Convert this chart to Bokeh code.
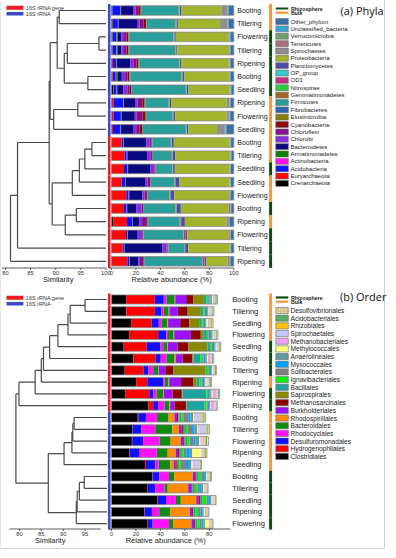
from bokeh.plotting import figure
from bokeh.models import Range1d, ColumnDataSource
from bokeh.core.properties import value
from bokeh.embed import file_html
from bokeh.resources import INLINE

# ---------------- panel (a): phyla ----------------
samples_a = ["Booting", "Tillering", "Flowering", "Tillering", "Ripening", "Booting", "Seedling",
             "Ripening", "Flowering", "Seedling", "Booting", "Tillering", "Seedling", "Seedling",
             "Flowering", "Booting", "Ripening", "Flowering", "Tillering", "Ripening"]
source_a = ["16S rRNA"] * 10 + ["16S rRNA gene"] * 10
habitat_a = ["Bulk", "Bulk", "Rhizosphere", "Rhizosphere", "Rhizosphere", "Rhizosphere", "Rhizosphere",
             "Bulk", "Bulk", "Bulk", "Bulk", "Bulk", "Rhizosphere", "Bulk", "Bulk", "Rhizosphere",
             "Bulk", "Rhizosphere", "Rhizosphere", "Rhizosphere"]

crenarchaeota = [0.5, 1, 0.8, 0.8, 0.5, 0.8, 1.5, 0.3, 0.3, 0.3, 0.3, 0.3, 0.3, 0.3, 0.5, 0.3, 1.4, 0.3, 0.3, 0.3]
euryarchaeota = [0.3, 0.3, 0.3, 0.3, 0.8, 0.5, 0.3, 1.4, 1.4, 1, 8, 10.3, 10, 8.1, 11.6, 10, 11.4, 11.6, 8.9, 12.7]
acidobacteria = [6.5, 4, 2.7, 2.7, 2.5, 2.2, 2.2, 8, 6, 6, 1.3, 1.9, 2.7, 2.7, 1.9, 2, 4, 1, 1, 1.5]
actinobacteria = [0.3, 0.3, 0.3, 0.3, 0.3, 0.3, 0.3, 0.3, 0.3, 0.3, 0.3, 0.3, 0.3, 0.3, 0.3, 0.3, 0.3, 0.3, 0.3, 0.3]
armatimonadetes = [0.3, 0.3, 1, 1, 0.5, 1.2, 0.5, 0.3, 0.3, 0.3, 0.3, 0.3, 0.3, 0.3, 0.3, 0.3, 0.3, 0.3, 0.3, 0.3]
bacteroidetes = [9.8, 15, 3, 3, 11, 3.5, 4.8, 9.5, 10.8, 10.3, 18.4, 16, 18.4, 16.3, 10.8, 7.3, 5.6, 8, 31, 6.8]
chlorobi = [2, 2.2, 2.2, 2.2, 2.2, 2.7, 3.8, 1.4, 1.6, 2, 2.7, 2.7, 3.2, 1.4, 1.6, 4.6, 2, 3.5, 3.2, 1.4]
chloroflexi = [2.7, 3.2, 2, 2, 2.7, 2, 1.4, 4, 4.6, 2.9, 1.4, 1.4, 0.5, 2.2, 2, 1, 4, 0.5, 0.8, 2.7]
cyanobacteria = [1.5, 2, 1.5, 1.6, 1.6, 1.5, 1.4, 1.9, 2.7, 1.9, 0.3, 0.3, 0.3, 0.3, 0.3, 0.3, 0.5, 0.3, 0.3, 0.5]
elusimicrobia = [0.5, 0.3, 0.5, 0.4, 0.3, 0.4, 0.3, 0.3, 0.3, 0.3, 0.2, 0.2, 0.2, 0.2, 0.2, 0.2, 0.2, 0.2, 0.2, 0.2]
fibrobacteres = [0.5, 0.3, 0.3, 0.3, 0.3, 0.3, 0.3, 0.3, 0.5, 0.5, 0.3, 0.3, 0.3, 0.3, 0.3, 0.3, 0.3, 0.3, 0.3, 0.5]
firmicutes = [30, 23.5, 36, 37.4, 32.5, 41.7, 44, 19, 21, 35, 15, 15, 13, 19, 17.6, 25.7, 25.7, 32.5, 12.7, 47]
gemmatimonadetes = [0.3, 0.3, 0.3, 0.3, 0.3, 0.3, 0.3, 0.3, 0.3, 0.3, 0.3, 0.5, 0.3, 0.3, 0.3, 0.3, 0.3, 0.3, 0.3, 0.3]
nitrospirae = [0.3, 0.2, 0.3, 0.3, 0.2, 0.3, 0.2, 0.2, 0.2, 0.2, 0.2, 0.2, 0.2, 0.2, 0.2, 0.3, 0.3, 0.2, 0.2, 0.2]
od1 = [0.2, 0.2, 0.2, 0.2, 0.2, 0.2, 0.2, 0.2, 0.2, 0.2, 0.2, 0.2, 0.2, 0.2, 0.2, 0.3, 0.5, 1.5, 0.3, 1.4]
op_group = [0.2, 0.2, 0.2, 0.2, 0.2, 0.2, 0.2, 0.2, 0.2, 0.2, 0.2, 0.2, 0.2, 0.2, 0.2, 0.2, 0.2, 0.2, 0.2, 0.2]
planctomycetes = [1.4, 1, 1, 0.8, 0.8, 1.3, 1.3, 1.1, 1.4, 1.1, 1.6, 2.2, 1.4, 3.2, 3, 3.3, 3, 1, 2.4, 1.2]
proteobacteria = [32.5, 34.5, 43, 42.2, 39, 36.6, 33.5, 45.5, 42, 23.5, 45.5, 44.5, 44.6, 40.9, 45, 38.8, 34, 34, 33.8, 17.5]
spirochaetes = [4.9, 5.7, 0.3, 0.3, 0.3, 0.3, 0.3, 2.2, 1.9, 6.2, 0.3, 0.3, 0.3, 0.3, 0.3, 0.3, 0.5, 0.3, 0.3, 0.3]
tenericutes = [0.3, 0.3, 0.3, 0.3, 0.3, 0.3, 0.3, 0.3, 0.3, 0.3, 0.3, 0.3, 0.3, 0.3, 0.3, 1.5, 1.4, 0.8, 0.5, 1.4]
verrucomicrobia = [0.3, 0.3, 0.2, 0.2, 0.2, 0.2, 0.2, 0.2, 0.2, 0.3, 0.2, 0.2, 0.2, 0.2, 0.2, 0.2, 0.2, 0.2, 0.2, 0.2]
unclassified_bacteria = [0.7, 0.6, 1, 0.6, 0.7, 0.6, 0.7, 0.5, 0.6, 0.9, 0.5, 0.5, 0.4, 0.4, 0.5, 0.4, 0.5, 0.3, 0.3, 0.5]
other_phylum = [4, 4.3, 2.6, 2.6, 2.6, 2.6, 2, 2.6, 2.9, 6, 2.2, 1.9, 2.4, 2.4, 2.4, 2.1, 3.4, 2.4, 2.2, 2.6]

phyla_names = ["Crenarchaeota", "Euryarchaeota", "Acidobacteria", "Actinobacteria", "Armatimonadetes",
               "Bacteroidetes", "Chlorobi", "Chloroflexi", "Cyanobacteria", "Elusimicrobia", "Fibrobacteres",
               "Firmicutes", "Gemmatimonadetes", "Nitrospirae", "OD1", "OP_group", "Planctomycetes",
               "Proteobacteria", "Spirochaetes", "Tenericutes", "Verrucomicrobia", "Unclassified_bacteria",
               "Other_phylum"]
phyla_values = [crenarchaeota, euryarchaeota, acidobacteria, actinobacteria, armatimonadetes, bacteroidetes,
                chlorobi, chloroflexi, cyanobacteria, elusimicrobia, fibrobacteres, firmicutes,
                gemmatimonadetes, nitrospirae, od1, op_group, planctomycetes, proteobacteria, spirochaetes,
                tenericutes, verrucomicrobia, unclassified_bacteria, other_phylum]
phyla_colors = ["#000000", "#FF0A0A", "#0A14FF", "#FF10F0", "#0A800A", "#0A0A80", "#8A2BE2", "#86108A",
                "#8B0A0A", "#858000", "#2F63B2", "#2A9E9A", "#A8642C", "#2ECC40", "#C62D84", "#35C8CC",
                "#4C4CA6", "#A2B42E", "#8E8E8E", "#A8707A", "#6E9F6E", "#39A3D3", "#3A6EA8"]

# dendrogram (a): merge i joins node left[i] and right[i] at similarity sim[i]; new node id = 20 + i
dendro_a_left = [2, 20, 5, 21, 0, 24, 7, 26, 25, 10, 29, 30, 31, 15, 33, 32, 28, 36, 37]
dendro_a_right = [3, 4, 6, 22, 1, 23, 8, 9, 27, 11, 12, 13, 14, 16, 17, 34, 35, 18, 19]
dendro_a_sim = [98.6, 92.3, 96.4, 91.7, 90.7, 90.3, 94.4, 89.6, 88.9, 97.2, 95.8, 94.7, 93.3, 94.1, 91.9,
                89.3, 88.7, 82.4, 81.0]

# ---------------- panel (b): orders ----------------
samples_b = ["Booting", "Tillering", "Seedling", "Flowering", "Seedling", "Booting", "Tillering", "Ripening",
             "Flowering", "Ripening", "Booting", "Tillering", "Flowering", "Ripening", "Seedling", "Booting",
             "Tillering", "Seedling", "Ripening", "Flowering"]
source_b = ["16S rRNA gene"] * 10 + ["16S rRNA"] * 10
habitat_b = ["Bulk", "Bulk", "Bulk", "Bulk", "Rhizosphere", "Rhizosphere", "Rhizosphere", "Bulk",
             "Rhizosphere", "Rhizosphere", "Bulk", "Bulk", "Bulk", "Bulk", "Bulk", "Rhizosphere",
             "Rhizosphere", "Rhizosphere", "Rhizosphere", "Rhizosphere"]

clostridiales = [12.1, 12.1, 16.1, 14.5, 10, 18, 10.8, 20.2, 11.3, 30.1, 21.5, 17.2, 16.7, 14.5, 27.4, 33.3, 29.6, 37.6, 26.9, 29.6]
hydrogenophilales = [23.4, 23.4, 16.7, 23.7, 18.8, 18, 15.3, 9.1, 19.6, 4, 0.5, 0.3, 0.3, 0.3, 0.8, 0.3, 0.3, 0.3, 0.3, 0.3]
desulfuromonadales = [7.3, 5.4, 5.9, 6.7, 11.3, 4.3, 4, 12.9, 3.2, 4, 6.2, 7, 8.9, 8.3, 7.8, 5.6, 5.9, 6.7, 5.9, 3.8]
rhodocyclales = [2.2, 1.9, 2.2, 1.3, 2.2, 4.6, 4, 1.3, 2.7, 5.4, 9.1, 11.3, 13.4, 14, 2.7, 7.8, 7.5, 8.1, 5.9, 13.4]
bacteroidales = [6.7, 4, 4.8, 4.6, 3.2, 6.7, 4, 3.2, 5.4, 4, 9.4, 14, 9.1, 8.9, 9.4, 4.3, 2.7, 4, 8.9, 3.5]
rhodospirillales = [0.5, 0.5, 0.6, 0.5, 0.5, 1, 0.5, 0.5, 0.5, 0.5, 4.8, 5.4, 8.3, 6.5, 2.7, 15.3, 16.7, 12.6, 16.1, 14.8]
burkholderiales = [8.9, 7, 9.9, 13.7, 8, 5.6, 5.4, 9.7, 7.3, 3.5, 2.2, 2.2, 2, 2, 1.6, 2, 2.7, 2, 2, 2]
methanosarcinales = [5.9, 8, 7.5, 8, 8.9, 8, 6.7, 9.9, 7.5, 9.4, 1, 1, 0.8, 0.8, 1, 0.8, 0.8, 1, 0.8, 0.8]
saprospirales = [8.6, 10.8, 8, 2, 15.6, 0.8, 26.3, 2.7, 0.5, 0.5, 1, 1, 0.8, 0.8, 1, 0.5, 0.5, 0.8, 0.5, 0.5]
bacillales = [2.2, 1.9, 1.5, 3, 2, 5.6, 1, 2.5, 19.6, 14.8, 1.5, 1.5, 1.5, 1.5, 1, 1.5, 1.5, 1.5, 1.5, 1.5]
ignavibacteriales = [1.3, 1.3, 1.3, 1.3, 1.3, 1.6, 1.6, 1.5, 1.3, 1.5, 1.5, 1.5, 2, 1.5, 1.5, 2, 2, 3, 2, 2]
solibacterales = [1, 1, 1, 1.3, 1.2, 1, 1, 1.2, 1, 1, 4, 3.5, 3, 2, 4, 1.5, 1.5, 1.5, 2, 1.5]
myxococcales = [1, 1, 1.2, 1.2, 1.2, 1.6, 1, 1.2, 1, 1, 2, 2, 2, 3, 2.5, 1.5, 2, 1.5, 1.5, 1.5]
anaerolineales = [1, 1, 1, 1, 1, 1.2, 0.8, 1, 1, 0.8, 2, 2, 3, 2, 2, 1.2, 1.2, 1.2, 1.2, 1.2]
methylococcales = [0.8, 0.8, 1.3, 0.8, 0.8, 0.8, 0.6, 0.8, 0.8, 0.6, 1, 1, 1, 7.5, 1, 0.8, 1, 0.8, 1, 3.5]
methanobacteriales = [0.8, 0.8, 0.8, 0.8, 0.8, 2, 0.6, 0.8, 3.2, 3.2, 1, 1, 1, 1, 1, 0.8, 0.8, 0.8, 1, 1]
spirochaetales = [0.8, 1, 0.8, 0.8, 0.8, 1, 0.5, 1.2, 0.8, 0.8, 5, 5.5, 2.5, 1, 4.5, 0.8, 1, 0.8, 0.8, 0.8]
rhizobiales = [0.6, 0.6, 1.2, 0.6, 0.5, 0.6, 0.5, 0.6, 0.5, 0.5, 1.5, 1, 1, 1, 0.8, 0.5, 0.5, 0.5, 0.5, 0.5]
acidobacteriales = [1, 0.8, 0.8, 0.8, 0.8, 0.8, 0.8, 1, 0.8, 0.5, 1, 1, 1, 1, 0.5, 0.8, 0.5, 0.5, 0.5, 0.5]
desulfovibrionales = [0.5, 0.5, 0.5, 0.4, 0.5, 0.4, 0.4, 0.5, 0.5, 0.4, 0.8, 0.9, 1, 0.5, 0.4, 0.5, 0.3, 0.3, 0.3, 0.3]

order_names = ["Clostridiales", "Hydrogenophilales", "Desulfuromonadales", "Rhodocyclales", "Bacteroidales",
               "Rhodospirillales", "Burkholderiales", "Methanosarcinales", "Saprospirales", "Bacillales",
               "Ignavibacteriales", "Solibacterales", "Myxococcales", "Anaerolineales", "Methylococcales",
               "Methanobacteriales", "Spirochaetales", "Rhizobiales", "Acidobacteriales", "Desulfovibrionales"]
order_values = [clostridiales, hydrogenophilales, desulfuromonadales, rhodocyclales, bacteroidales,
                rhodospirillales, burkholderiales, methanosarcinales, saprospirales, bacillales,
                ignavibacteriales, solibacterales, myxococcales, anaerolineales, methylococcales,
                methanobacteriales, spirochaetales, rhizobiales, acidobacteriales, desulfovibrionales]
order_colors = ["#000000", "#FF0000", "#1010FF", "#FF10FF", "#108A10", "#FF8C00", "#9A10FF", "#8B0000",
                "#8A8A00", "#1FA3A0", "#10EE10", "#808080", "#0AA0FF", "#5E9C9A", "#FFFF80", "#F0A0F0",
                "#C3C8F5", "#FFC20E", "#3DBB6B", "#F2E6B5"]
order_hatch = [""] * 18 + ["/", "/"]

dendro_b_left = [0, 20, 21, 22, 23, 24, 25, 26, 27, 10, 29, 30, 31, 15, 33, 34, 35, 32, 28]
dendro_b_right = [1, 2, 3, 4, 5, 6, 7, 8, 9, 11, 12, 13, 14, 16, 17, 18, 19, 36, 37]
dendro_b_sim = [95.0, 91.6, 91.1, 88.8, 86.9, 85.5, 85.0, 83.6, 79.9, 92.5, 92.2, 92.0, 90.2, 94.8, 93.7,
                93.2, 93.0, 86.6, 79.2]

sim_ticks_a = [80, 85, 90, 95, 100]
sim_ticks_b = [80, 85, 90, 95]
ab_ticks_a = [0, 20, 40, 60, 80, 100]
ab_ticks_b = [0, 20, 40, 60, 80]

# ---------------- layout ----------------
W, H = 388, 550
X0, X1 = 4, 394
Y0, Y1 = 4, 554
AB0, AB_PX = 115.5, 1.23           # position of 0 % and pixels per %
SA100, SA_PX = 110.0, 5.05         # dendrogram (a): position of 100 and px per unit
SB100, SB_PX = 111.0, 4.4          # dendrogram (b)
FONT = value("Liberation Sans")
SRC_COL = {"16S rRNA gene": "#EC1C24", "16S rRNA": "#3F48CC"}
HAB_COL = {"Rhizosphere": "#0E4D12", "Bulk": "#F7963F"}

p = figure(width=W, height=H, x_range=Range1d(X0, X1), y_range=Range1d(Y1, Y0),
           output_backend="svg", toolbar_location=None, x_axis_type=None, y_axis_type=None,
           min_border=0, outline_line_color=None)
p.grid.visible = False
p.extra_x_ranges = {
    "ab": Range1d((X0 - AB0) / AB_PX, (X1 - AB0) / AB_PX),
    "sa": Range1d(100 - (SA100 - X0) / SA_PX, 100 + (X1 - SA100) / SA_PX),
    "sb": Range1d(100 - (SB100 - X0) / SB_PX, 100 + (X1 - SB100) / SB_PX),
}

# outer frame
p.quad(left=[4], right=[390], top=[3], bottom=[552], fill_color=None, line_color="#D0D0D0", line_width=1)


def panel(row0, step, barh, names, values, colors, hatches, samples, sources, habitats, sim_rng,
          merges, sim_ticks, ab_ticks, ab_end, sim_lo, axis_y, label_x, label_size,
          legend_y0, legend_step, legend_size, title, title_y, sim_title_x, ab_title_x, legend_key_y):
    n = len(samples)
    ys = [row0 + step * i for i in range(n)]
    # stacked bars
    seg = dict(y=[], left=[], right=[], color=[], hatch=[])
    totals = [0.0] * n
    for vals, col, hat in zip(values, colors, hatches):
        for i, v in enumerate(vals):
            seg["y"].append(ys[i]); seg["left"].append(totals[i]); seg["right"].append(totals[i] + v)
            seg["color"].append(col); seg["hatch"].append(hat)
            totals[i] += v
    p.hbar(y="y", left="left", right="right", height=barh, fill_color="color", line_color=None,
           source=ColumnDataSource(seg), x_range_name="ab")
    p.hbar(y=ys, left=0, right=totals, height=barh, fill_color=None, line_color="#8C8C8C",
           line_width=0.8, x_range_name="ab")
    # source strip and habitat strip
    tops = [y - step / 2 for y in ys]
    bots = [y + step / 2 for y in ys]
    p.quad(left=112, right=114.6, top=tops, bottom=bots, line_color=None,
           fill_color=[SRC_COL[s] for s in sources])
    p.quad(left=274, right=277, top=tops, bottom=bots, line_color=None,
           fill_color=[HAB_COL[h] for h in habitats])
    # sample labels
    p.text(x=label_x, y=ys, text=samples, text_font=FONT, text_font_size=label_size,
           text_baseline="middle", text_align="left", text_color="#1A1A1A")
    # dendrogram
    ml, mr, ms = merges
    pos = {i: (100.0, ys[i]) for i in range(n)}
    x0s, y0s, x1s, y1s = [], [], [], []
    for k, (l, r, s) in enumerate(zip(ml, mr, ms)):
        xl, yl = pos[l]
        xr, yr = pos[r]
        x0s += [xl, xr, s]; y0s += [yl, yr, yl]; x1s += [s, s, s]; y1s += [yl, yr, yr]
        pos[n + k] = (s, (yl + yr) / 2)
    p.segment(x0=x0s, y0=y0s, x1=x1s, y1=y1s, line_color="#4A4A4A", line_width=1.2, x_range_name=sim_rng)
    # axes drawn with the data ranges
    tick_font = "5.8px"
    p.segment(x0=[sim_lo], x1=[sim_ticks[-1] if sim_ticks[-1] == 100 else 98.6], y0=[axis_y], y1=[axis_y],
              line_color="#333333", line_width=0.8, x_range_name=sim_rng)
    p.segment(x0=sim_ticks, x1=sim_ticks, y0=axis_y, y1=axis_y + 2, line_color="#333333",
              line_width=0.8, x_range_name=sim_rng)
    p.text(x=sim_ticks, y=axis_y + 5, text=[str(t) for t in sim_ticks], text_font=FONT,
           text_font_size=tick_font, text_align="center", text_baseline="middle", text_color="#333333",
           x_range_name=sim_rng)
    p.segment(x0=[-2], x1=[ab_end], y0=[axis_y], y1=[axis_y], line_color="#333333", line_width=0.8,
              x_range_name="ab")
    p.segment(x0=ab_ticks, x1=ab_ticks, y0=axis_y, y1=axis_y + 2, line_color="#333333", line_width=0.8,
              x_range_name="ab")
    p.text(x=ab_ticks, y=axis_y + 5, text=[str(t) for t in ab_ticks], text_font=FONT,
           text_font_size=tick_font, text_align="center", text_baseline="middle", text_color="#333333",
           x_range_name="ab")
    p.text(x=[sim_title_x], y=[axis_y + 11.5], text=["Similarity"], text_font=FONT, text_font_size="7.5px",
           text_align="center", text_baseline="middle", text_color="#222222")
    p.text(x=[ab_title_x], y=[axis_y + 11.5], text=["Relative abundance (%)"], text_font=FONT,
           text_font_size="7.5px", text_align="center", text_baseline="middle", text_color="#222222")
    # source key
    p.quad(left=10, right=27, top=[legend_key_y - 2, legend_key_y + 4.2],
           bottom=[legend_key_y + 2, legend_key_y + 7.8], fill_color=[SRC_COL["16S rRNA gene"], SRC_COL["16S rRNA"]],
           line_color=None)
    p.text(x=29.5, y=[legend_key_y, legend_key_y + 6], text=["16S rRNA gene", "16S rRNA"], text_font=FONT,
           text_font_size="5.5px", text_baseline="middle", text_align="left", text_color="#333333")
    # habitat key
    hy = legend_y0 - 13
    p.quad(left=280.7, right=293.3, top=[hy - 1.1, hy + 3.1], bottom=[hy + 1.1, hy + 5.3],
           fill_color=[HAB_COL["Rhizosphere"], HAB_COL["Bulk"]], line_color=None)
    p.text(x=296, y=[hy, hy + 4.2], text=["Rhizosphere", "Bulk"], text_font=FONT, text_font_size="5.3px",
           text_font_style="bold", text_baseline="middle", text_align="left", text_color="#222222")
    # taxon legend (top to bottom is the reverse of the stacking order)
    k = len(names)
    ly = [legend_y0 + legend_step * j for j in range(k)]
    lnames = names[::-1]
    lcols = colors[::-1]
    lhat = hatches[::-1]
    p.quad(left=280.7, right=293.3, top=[y - legend_step * 0.4 for y in ly],
           bottom=[y + legend_step * 0.4 for y in ly], fill_color=lcols, line_color="#6A6A6A",
           line_width=0.6, hatch_pattern=lhat, hatch_color="#9A8F60", hatch_scale=3, hatch_weight=0.6)
    p.text(x=295.5, y=ly, text=lnames, text_font=FONT, text_font_size=legend_size,
           text_baseline="middle", text_align="left", text_color="#222222")
    p.text(x=[392], y=[title_y], text=[title], text_font=value("Open Sans"), text_font_size="11px",
           text_baseline="middle", text_align="right", text_color="#111111")


panel(14.0, 13.2, 9.6, phyla_names, phyla_values, phyla_colors, [""] * len(phyla_names), samples_a, source_a,
      habitat_a, "sa", (dendro_a_left, dendro_a_right, dendro_a_sim), sim_ticks_a, ab_ticks_a, 100, 79.3,
      271.5, 242, "7px", 25.0, 7.36, "6px", "(a)  Phyla", 13.5, 62, 176, 11.3)
panel(303.0, 11.8, 9.2, order_names, order_values, order_colors, order_hatch, samples_b, source_b,
      habitat_b, "sb", (dendro_b_left, dendro_b_right, dendro_b_sim), sim_ticks_b, ab_ticks_b, 97, 77.7,
      532.5, 237, "7.5px", 314.0, 7.68, "6.6px", "(b) Order", 300.0, 54, 170, 301.3)

open("out.html", "w").write(file_html(p, INLINE))
